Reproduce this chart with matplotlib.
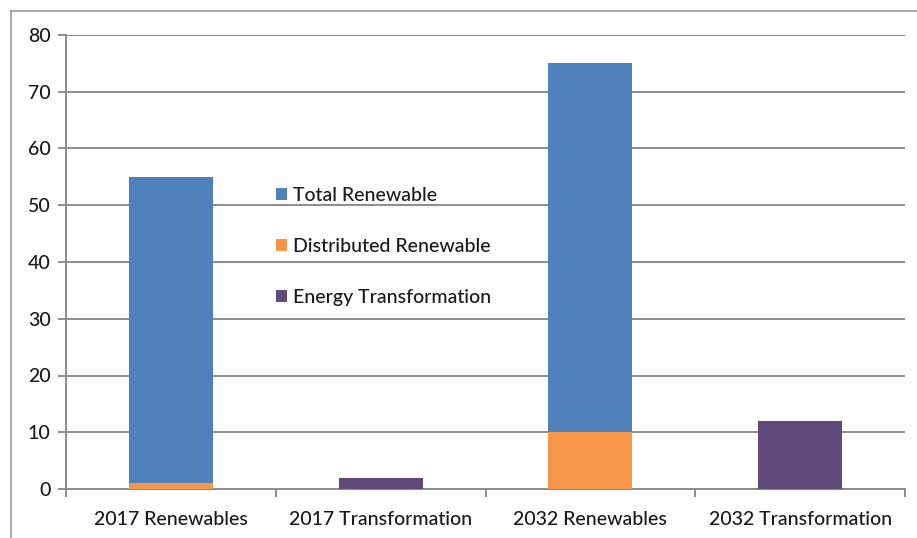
import matplotlib
matplotlib.use("Agg")
import matplotlib.pyplot as plt
from matplotlib.patches import Patch
from matplotlib.lines import Line2D
import numpy as np

categories = ["2017 Renewables", "2017 Transformation", "2032 Renewables", "2032 Transformation"]
total_renewable = [55, 0, 75, 0]
distributed_renewable = [1, 0, 10, 0]
energy_transformation = [0, 2, 0, 12]
yticks = [0, 10, 20, 30, 40, 50, 60, 70, 80]

c_blue = "#4F81BD"
c_orange = "#F79646"
c_purple = "#604A7B"
grid_c = "#8C8C8C"
txt_c = "#1A1A1A"

plt.rcParams['font.family'] = ['Lato', 'DejaVu Sans']
plt.rcParams['font.weight'] = 'medium'

W, H = 917, 538
fig = plt.figure(figsize=(W / 100, H / 100), dpi=100)
ax = fig.add_axes([66 / W, 1 - 489 / H, (905 - 66) / W, (489 - 35) / H])

x = np.arange(len(categories))
bw = 0.4
ax.bar(x, total_renewable, width=bw, color=c_blue, zorder=3)
ax.bar(x, distributed_renewable, width=bw, color=c_orange, zorder=4)
ax.bar(x, energy_transformation, width=bw, color=c_purple, zorder=4)

ax.set_xlim(-0.5, len(categories) - 0.5)
ax.set_ylim(0, 80)
ax.set_yticks(yticks)
ax.set_yticklabels([str(v) for v in yticks], fontsize=14, color=txt_c)
ax.yaxis.grid(True, color=grid_c, linewidth=1.4, zorder=0)
ax.set_axisbelow(True)

ax.set_xticks(x)
ax.set_xticklabels(categories, fontsize=14, color=txt_c)
ax.tick_params(axis='x', length=0, pad=16)
ax.set_xticks(np.arange(-0.5, len(categories), 1.0), minor=True)
ax.tick_params(axis='x', which='minor', length=6, width=1.4, color=grid_c, direction='out')
ax.tick_params(axis='y', length=6, width=1.4, color=grid_c, pad=5)

for s in ['top', 'right']:
    ax.spines[s].set_visible(False)
ax.spines['left'].set_color(grid_c)
ax.spines['left'].set_linewidth(1.4)
ax.spines['bottom'].set_color(grid_c)
ax.spines['bottom'].set_linewidth(1.4)

handles = [Patch(facecolor=c_blue), Patch(facecolor=c_orange), Patch(facecolor=c_purple)]
labels = ["Total Renewable", "Distributed Renewable", "Energy Transformation"]
leg = ax.legend(handles, labels, loc='upper left', bbox_to_anchor=(202 / 839, (489 - 179) / 454),
                frameon=False, fontsize=14, handlelength=0.6, handleheight=0.6,
                handletextpad=0.3, labelspacing=1.75, borderaxespad=0)
for t in leg.get_texts():
    t.set_color(txt_c)

# outer frame (left and top edges visible)
fig.add_artist(Line2D([11 / W, 11 / W], [0, 1 - 11 / H], transform=fig.transFigure, color="#A0A0A0", linewidth=1.3))
fig.add_artist(Line2D([11 / W, 1], [1 - 11 / H, 1 - 11 / H], transform=fig.transFigure, color="#A0A0A0", linewidth=1.3))

fig.savefig("out.png", dpi=100)
